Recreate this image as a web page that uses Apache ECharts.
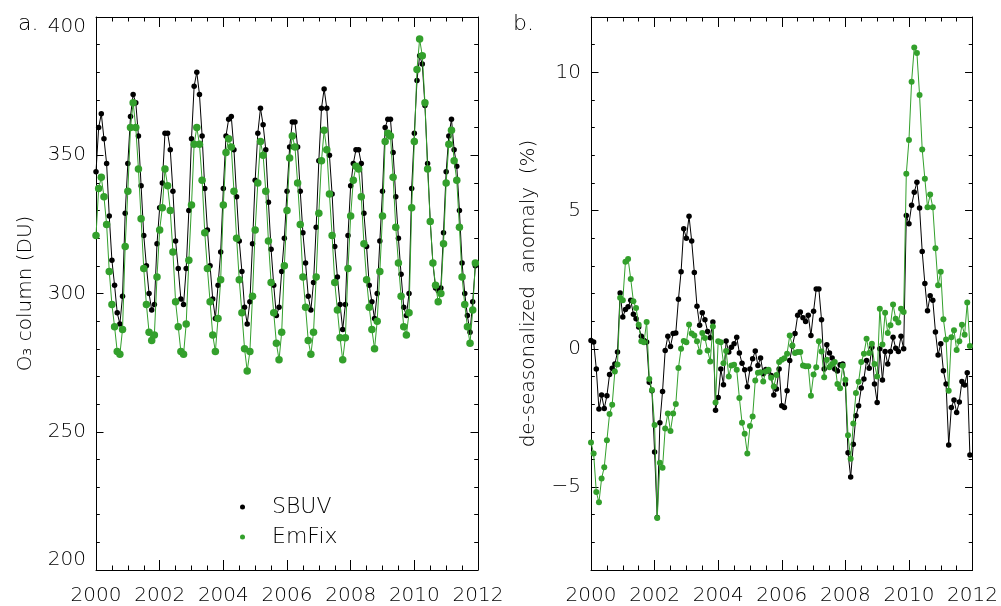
<!DOCTYPE html>
<html>
<head>
<meta charset="utf-8">
<script src="https://cdn.jsdelivr.net/npm/echarts@6/dist/echarts.min.js"></script>
<style>
html,body{margin:0;padding:0;background:#ffffff;}
#chart{width:1001px;height:606px;}
</style>
</head>
<body>
<div id="chart"></div>
<script>
// ---- data (monthly, Jan 2000 .. Dec 2011) ----
const startYear = 2000;
const monthsPerYear = 12;
const yearTicks = [2000, 2002, 2004, 2006, 2008, 2010, 2012];
const seriesNames = ['SBUV', 'EmFix'];

// panel a: O3 column (DU)
const sbuvColumn = [
  344, 360, 365, 356, 347, 328, 312, 303, 293, 289, 299, 329,
  347, 364, 372, 369, 357, 339, 321, 310, 300, 294, 296, 318,
  331, 340, 358, 358, 352, 337, 319, 309, 298, 296, 309, 330,
  356, 375, 380, 372, 357, 338, 323, 310, 298, 291, 303, 315,
  338, 357, 363, 364, 352, 335, 319, 308, 295, 289, 297, 318,
  341, 358, 367, 361, 352, 333, 316, 303, 292, 295, 308, 320,
  337, 353, 362, 362, 353, 337, 322, 311, 299, 294, 304, 324,
  348, 367, 374, 367, 350, 336, 317, 306, 296, 287, 296, 321,
  339, 347, 352, 352, 347, 329, 317, 303, 297, 291, 300, 319,
  337, 360, 363, 363, 351, 335, 320, 307, 295, 292, 300, 338,
  358, 377, 386, 383, 368, 347, 326, 311, 302, 301, 302, 322,
  344, 357, 363, 352, 346, 330, 311, 300, 292, 286, 297, 310
];
const emfixColumn = [
  321, 338, 342, 335, 325, 308, 296, 288, 279, 278, 287, 317,
  337, 360, 369, 360, 345, 327, 309, 296, 286, 283, 285, 306,
  323, 331, 345, 339, 330, 315, 297, 288, 279, 278, 289, 312,
  332, 354, 360, 354, 341, 322, 309, 297, 285, 279, 291, 305,
  332, 351, 356, 353, 337, 320, 305, 293, 280, 272, 279, 299,
  323, 340, 355, 350, 337, 319, 304, 293, 282, 276, 286, 310,
  330, 349, 357, 353, 340, 325, 306, 295, 283, 278, 286, 306,
  329, 348, 359, 352, 336, 321, 304, 294, 284, 276, 284, 309,
  328, 341, 346, 345, 335, 318, 305, 295, 287, 280, 290, 308,
  328, 355, 358, 357, 342, 324, 311, 299, 288, 285, 293, 331,
  355, 381, 392, 386, 369, 345, 326, 311, 303, 297, 300, 318,
  340, 354, 359, 348, 341, 324, 306, 296, 288, 282, 294, 311
];

// panel b: de-seasonalized anomaly (%)
const sbuvAnomaly = [
  0.3, 0.25, -0.73, -2.18, -1.67, -2.16, -1.7, -0.93, -0.7, -0.55, -0.12, 2.02,
  1.15, 1.42, 1.52, 1.76, 1.25, 1.09, 0.79, 0.45, 0.3, 0.25, -1.21, -1.52,
  -3.73, -6.1, -2.67, -1.54, -0.06, 0.45, 0.08, 0.55, 0.57, 1.79, 2.79, 4.34,
  4.0, 4.79, 3.9, 2.76, 1.54, 0.85, 1.3, 1.05, 0.63, 0.4, 0.97, -2.22,
  -1.76, -0.73, -1.3, 0.28, -0.12, 0.06, 0.18, 0.42, -0.15, -0.52, -0.76, -1.37,
  -0.73, -0.36, -0.08, -0.6, -0.33, -0.9, -0.75, -0.8, -0.97, -1.67, -1.45, -0.73,
  -2.06, -2.12, -1.52, -0.42, 0.1, 0.55, 1.21, 1.33, 1.12, 0.99, 1.21, 0.48,
  1.36, 2.16, 2.16, 1.05, -0.73, 0.15, -0.15, -0.33, -0.73, -0.8, -0.58, -0.55,
  -1.27, -3.76, -4.64, -3.45, -2.42, -2.06, -1.42, -1.09, -0.42, -0.7, 0.06, -1.27,
  -1.94, 0.0, -1.13, -0.1, -0.55, -0.1, 0.42, 0.02, -0.1, 0.45, 0.0, 4.82,
  4.52, 5.19, 5.66, 6.02, 5.09, 3.52, 2.36, 1.38, 1.92, 1.76, 0.61, -0.22,
  0.18, -0.79, -1.27, -3.48, -2.12, -1.85, -2.3, -1.92, -1.18, -1.31, -0.87, -3.84
];
const emfixAnomaly = [
  -3.39, -3.79, -5.18, -5.55, -4.69, -4.28, -3.31, -2.36, -2.02, -0.82, -0.57, 1.85,
  1.76, 3.15, 3.25, 2.52, 1.72, 1.48, 0.87, 0.27, 0.24, 0.97, -1.09, -1.49,
  -2.76, -6.12, -4.12, -4.3, -2.88, -2.34, -2.97, -2.34, -2.0, -0.69, 0.0, 0.28,
  0.24, 0.88, 0.55, 0.48, 0.27, -0.12, 0.57, 0.39, -0.06, -0.46, 0.81, -1.94,
  0.27, 0.24, -0.52, -0.08, -1.0, -0.6, -0.58, -0.76, -1.78, -2.67, -3.07, -3.79,
  -2.79, -2.45, -1.15, -0.87, -0.85, -1.18, -0.82, -0.76, -1.05, -1.36, -0.95, -0.48,
  -0.4, -0.34, -0.18, 0.48, 0.12, -0.15, -0.12, -0.12, -0.6, -0.63, -0.63, -1.7,
  -0.93, -0.67, 0.27, -0.1, -1.03, -0.4, -0.67, -0.55, -0.48, -1.27, -1.43, -0.61,
  -1.12, -3.13, -3.98, -2.7, -1.6, -1.19, -0.48, -0.18, 0.36, -0.15, 0.18, -0.55,
  -1.0, 1.45, 0.16, 1.3, 0.57, 0.85, 1.6, 1.09, 0.95, 1.45, 1.33, 6.33,
  7.55, 9.66, 10.9, 10.7, 9.18, 7.21, 6.15, 5.12, 5.58, 5.12, 3.64, 2.3,
  2.79, 1.07, 0.34, -1.52, 0.42, 0.67, -0.04, 0.27, 0.87, 0.51, 1.67, 0.1
];

// ---- styling ----
const FONT = 'DejaVu Sans';
const FW = 200;
const BLACK = '#000000';
const GREEN = '#33a02c';

function pairs(values) {
  return values.map((v, i) => [startYear + i / monthsPerYear, v]);
}
function fmtYear(v) { return yearTicks.indexOf(v) >= 0 ? String(v) : ''; }
function fmtSigned(v) { return String(v).replace('-', '\u2212'); }

const lineStyleAxis = { color: BLACK, width: 1 };

function xAxisDef(gridIndex, position, withLabels) {
  return {
    type: 'value', gridIndex: gridIndex, position: position,
    min: 2000, max: 2012, interval: 2,
    axisLine: { show: true, onZero: false, lineStyle: lineStyleAxis },
    axisTick: { show: true, inside: true, length: 10, lineStyle: lineStyleAxis },
    minorTick: { show: true, splitNumber: 4, length: 4.5, lineStyle: lineStyleAxis },
    axisLabel: { show: withLabels, margin: 16, formatter: fmtYear, color: BLACK,
      fontFamily: FONT, fontWeight: FW, fontSize: 20 },
    splitLine: { show: false }, minorSplitLine: { show: false }
  };
}

const labelStyle = { color: BLACK, fontFamily: FONT, fontWeight: FW, fontSize: 20 };

const option = {
  animation: false,
  backgroundColor: '#ffffff',
  title: [
    { text: 'a.', left: 18, top: 13, padding: 0,
      textStyle: { color: BLACK, fontFamily: FONT, fontWeight: FW, fontSize: 22 } },
    { text: 'b.', left: 513, top: 13, padding: 0,
      textStyle: { color: BLACK, fontFamily: FONT, fontWeight: FW, fontSize: 22 } }
  ],
  legend: {
    data: seriesNames, orient: 'vertical', left: 240, top: 496,
    icon: 'circle', itemWidth: 5, itemHeight: 5, itemGap: 8,
    padding: 0, selectedMode: false,
    textStyle: { color: BLACK, fontFamily: FONT, fontWeight: FW, fontSize: 22,
      lineHeight: 22, padding: [0, 0, 0, 22] }
  },
  grid: [
    { left: 96, top: 17, width: 382, height: 553 },
    { left: 591, top: 17, width: 382, height: 553 }
  ],
  xAxis: [
    xAxisDef(0, 'bottom', true),
    xAxisDef(0, 'top', false),
    xAxisDef(1, 'bottom', true),
    xAxisDef(1, 'top', false)
  ],
  yAxis: [
    { type: 'value', gridIndex: 0, position: 'left', min: 200, max: 400, interval: 50,
      name: 'O\u2083 column (DU)', nameLocation: 'middle', nameGap: 60,
      nameTextStyle: labelStyle,
      axisLine: { show: true, onZero: false, lineStyle: lineStyleAxis },
      axisTick: { show: true, inside: true, length: 7.5, lineStyle: lineStyleAxis },
      minorTick: { show: true, splitNumber: 5, length: 3.8, lineStyle: lineStyleAxis },
      axisLabel: Object.assign({ margin: 10, verticalAlignMaxLabel: 'top', verticalAlignMinLabel: 'bottom' }, labelStyle),
      splitLine: { show: false } },
    { type: 'value', gridIndex: 0, position: 'right', min: 200, max: 400, interval: 50,
      axisLine: { show: true, onZero: false, lineStyle: lineStyleAxis },
      axisTick: { show: true, inside: true, length: 7.5, lineStyle: lineStyleAxis },
      minorTick: { show: true, splitNumber: 5, length: 3.8, lineStyle: lineStyleAxis },
      axisLabel: { show: false }, splitLine: { show: false } },
    { type: 'value', gridIndex: 1, position: 'left', min: -8, max: 12,
      minInterval: 5, maxInterval: 5,
      name: 'de-seasonalized  anomaly  (%)', nameLocation: 'middle', nameGap: 52,
      nameTextStyle: labelStyle,
      axisLine: { show: true, onZero: false, lineStyle: lineStyleAxis },
      axisTick: { show: true, inside: true, length: 7.5, lineStyle: lineStyleAxis },
      axisLabel: Object.assign({ margin: 10, showMinLabel: false, showMaxLabel: false,
        formatter: v => (v % 5 === 0 ? fmtSigned(v) : '') }, labelStyle),
      splitLine: { show: false } },
    { type: 'value', gridIndex: 1, position: 'left', min: -8, max: 12, interval: 1,
      axisLine: { show: false, onZero: false },
      axisTick: { show: true, inside: true, length: 3.8, lineStyle: lineStyleAxis },
      axisLabel: { show: false }, splitLine: { show: false } },
    { type: 'value', gridIndex: 1, position: 'right', min: -8, max: 12,
      minInterval: 5, maxInterval: 5,
      axisLine: { show: true, onZero: false, lineStyle: lineStyleAxis },
      axisTick: { show: true, inside: true, length: 7.5, lineStyle: lineStyleAxis },
      axisLabel: { show: false }, splitLine: { show: false } },
    { type: 'value', gridIndex: 1, position: 'right', min: -8, max: 12, interval: 1,
      axisLine: { show: false, onZero: false },
      axisTick: { show: true, inside: true, length: 3.8, lineStyle: lineStyleAxis },
      axisLabel: { show: false }, splitLine: { show: false } }
  ],
  series: [
    { name: 'SBUV', type: 'line', xAxisIndex: 0, yAxisIndex: 0, data: pairs(sbuvColumn),
      symbol: 'circle', symbolSize: 5.5, showSymbol: true, z: 2,
      itemStyle: { color: BLACK }, lineStyle: { color: BLACK, width: 1 } },
    { name: 'EmFix', type: 'line', xAxisIndex: 0, yAxisIndex: 0, data: pairs(emfixColumn),
      symbol: 'circle', symbolSize: 7.5, showSymbol: true, z: 3,
      itemStyle: { color: GREEN }, lineStyle: { color: GREEN, width: 1 } },
    { name: 'SBUV', type: 'line', xAxisIndex: 2, yAxisIndex: 2, data: pairs(sbuvAnomaly),
      symbol: 'circle', symbolSize: 5.5, showSymbol: true, z: 2,
      itemStyle: { color: BLACK }, lineStyle: { color: BLACK, width: 1 } },
    { name: 'EmFix', type: 'line', xAxisIndex: 2, yAxisIndex: 2, data: pairs(emfixAnomaly),
      symbol: 'circle', symbolSize: 6, showSymbol: true, z: 3,
      itemStyle: { color: GREEN }, lineStyle: { color: GREEN, width: 1 } }
  ]
};

const chart = echarts.init(document.getElementById('chart'), null, { renderer: 'canvas' });
chart.setOption(option);
</script>
</body>
</html>
